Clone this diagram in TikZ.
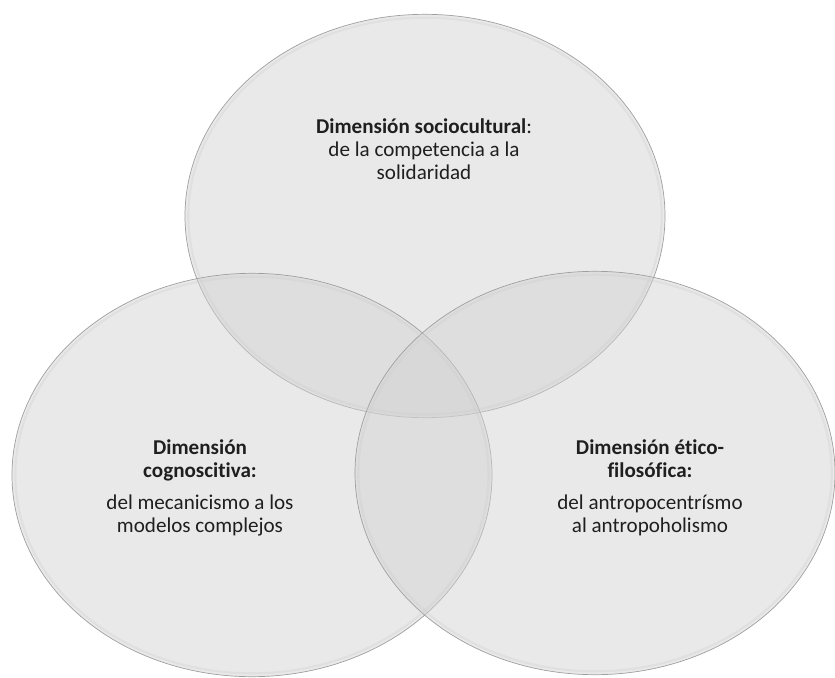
\documentclass[tikz,border=0pt]{standalone}
\usepackage{fontspec}
\setmainfont{Carlito}[Ligatures=NoCommon]
\usetikzlibrary{shapes.geometric, positioning}

\begin{document}
\begin{tikzpicture}[
        x=0.03cm, y=-0.03cm,
        dimension/.style={ellipse, draw=gray!75, line width=0.6pt, fill=black!18, fill opacity=0.47, minimum width=14.4cm, minimum height=12.1cm, inner sep=0pt},
        borde/.style={ellipse, draw=gray!40, line width=2pt, draw opacity=0.3, minimum width=14.2cm, minimum height=11.9cm, inner sep=0pt},
        texto/.style={align=center, text=black!88, font=\fontsize{18}{19.5}\selectfont}
    ]
    \useasboundingbox (0,0) rectangle (835,678);

    % CIRCULOS
    \node[dimension] (sociocultural) at (425,216) {};
    \node[dimension] (cognoscitiva) at (252,475) {};
    \node[dimension] (etica) at (595,473) {};
    \node[borde] (borde1) at (sociocultural.center) {};
    \node[borde] (borde2) at (cognoscitiva.center) {};
    \node[borde] (borde3) at (etica.center) {};

    % TEXTOS
    \node[texto] (t_socio) at (424,149) {\textbf{Dimensión sociocultural}:\\de la competencia a la\\solidaridad};
    \node[texto] (t_cogn) at (200,488) {\textbf{Dimensión}\\\textbf{cognoscitiva:}\\[8pt]del mecanicismo a los\\modelos complejos};
    \node[texto] (t_etica) at (650,488) {\textbf{Dimensión ético-}\\\textbf{filosófica:}\\[8pt]del antropocentrísmo\\al antropoholismo};

\end{tikzpicture}
\end{document}
